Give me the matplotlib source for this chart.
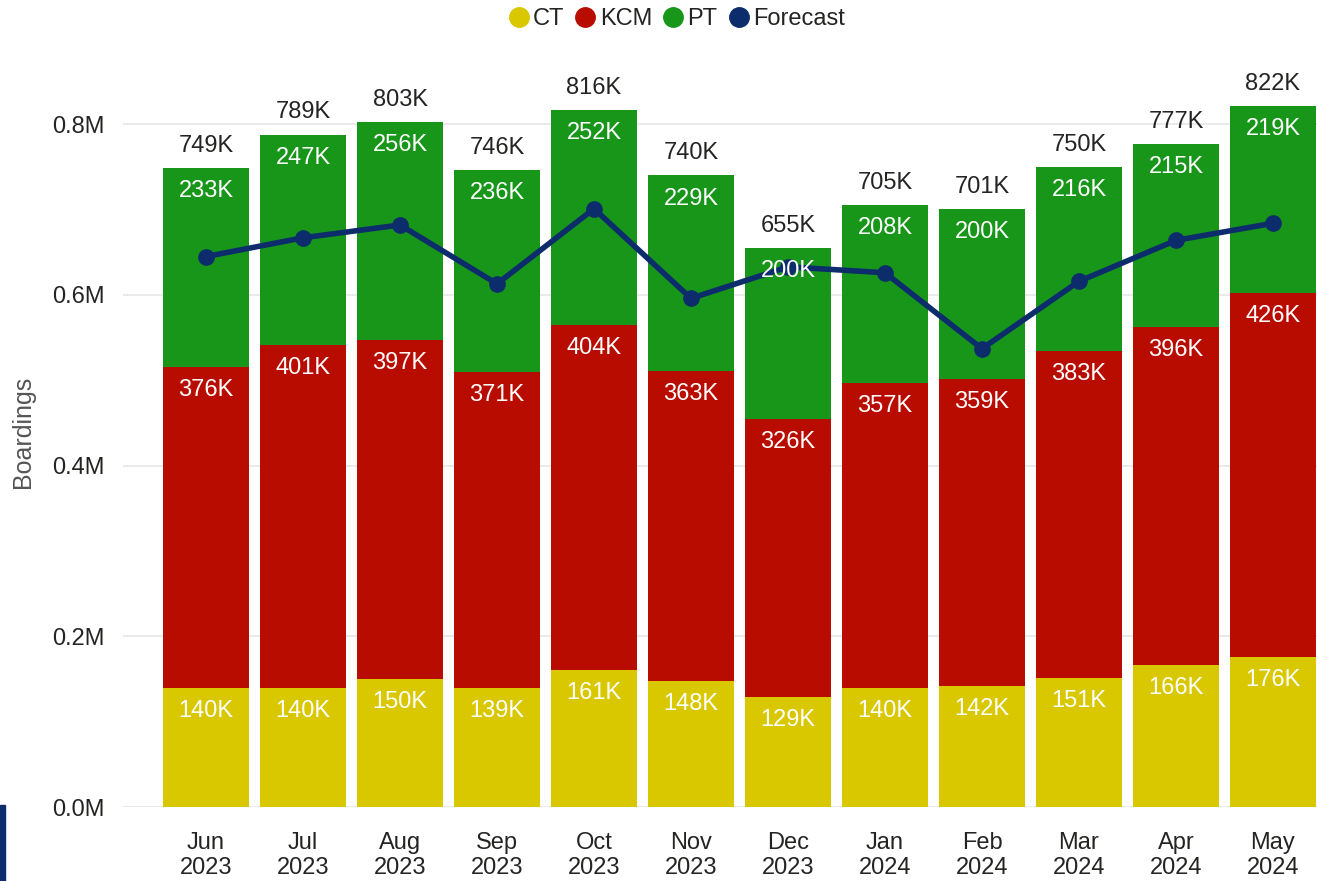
import numpy as np
import matplotlib.pyplot as plt
from matplotlib.lines import Line2D
from matplotlib.patches import Rectangle

plt.rcParams["font.family"] = ["Liberation Sans", "DejaVu Sans"]

months = ["Jun\n2023", "Jul\n2023", "Aug\n2023", "Sep\n2023", "Oct\n2023", "Nov\n2023",
          "Dec\n2023", "Jan\n2024", "Feb\n2024", "Mar\n2024", "Apr\n2024", "May\n2024"]
ct = [140, 140, 150, 139, 161, 148, 129, 140, 142, 151, 166, 176]
kcm = [376, 401, 397, 371, 404, 363, 326, 357, 359, 383, 396, 426]
pt = [233, 247, 256, 236, 252, 229, 200, 208, 200, 216, 215, 219]
totals = [749, 789, 803, 746, 816, 740, 655, 705, 701, 750, 777, 822]
forecast = [645, 667, 682, 613, 701, 596, 633, 626, 537, 616, 664, 684]

C_CT = "#D9C700"
C_KCM = "#B90C00"
C_PT = "#179619"
C_FC = "#0C2C6C"

W, H = 1317, 881
fig = plt.figure(figsize=(W / 100, H / 100), dpi=100)
ax = fig.add_axes([123 / W, 74 / H, 1194 / W, (807 - 56) / H])

x = np.arange(len(months))
ct_m = np.array(ct) / 1000
kcm_m = np.array(kcm) / 1000
pt_m = np.array(pt) / 1000
fc_m = np.array(forecast) / 1000

bw = 0.89
ax.bar(x, ct_m, bw, color=C_CT, zorder=2)
ax.bar(x, kcm_m, bw, bottom=ct_m, color=C_KCM, zorder=2)
ax.bar(x, pt_m, bw, bottom=ct_m + kcm_m, color=C_PT, zorder=2)

ax.plot(x, fc_m, color=C_FC, lw=4, marker="o", ms=11, zorder=3)

off = -0.027
fs = 17
for i in x:
    tops = [ct_m[i], ct_m[i] + kcm_m[i], ct_m[i] + kcm_m[i] + pt_m[i]]
    vals = [ct[i], kcm[i], pt[i]]
    for t, v in zip(tops, vals):
        ax.text(i, t + off, f"{v}K", ha="center", va="center", color="white",
                fontsize=fs, zorder=4)
    ax.text(i, tops[2] + 0.026, f"{totals[i]}K", ha="center", va="center",
            color="#252423", fontsize=fs, zorder=4)

ax.set_xlim(-0.856, 11.454)
ax.set_ylim(0, 0.88)
ax.set_yticks([0, 0.2, 0.4, 0.6, 0.8])
ax.set_yticklabels(["0.0M", "0.2M", "0.4M", "0.6M", "0.8M"])
ax.set_xticks(x)
ax.set_xticklabels(months, linespacing=1.2)
ax.tick_params(axis="both", length=0, labelsize=17, labelcolor="#252423")
ax.tick_params(axis="y", pad=13)
ax.tick_params(axis="x", pad=18)
ax.grid(axis="y", color="#E6E6E6", lw=1.2, zorder=0)
for s in ax.spines.values():
    s.set_visible(False)
ax.set_ylabel("Boardings", fontsize=18, color="#555555")
ax.yaxis.set_label_coords(-0.074, 0.5)

handles = [Line2D([], [], ls="", marker="o", ms=14, color=c)
           for c in (C_CT, C_KCM, C_PT, C_FC)]
fig.legend(handles, ["CT", "KCM", "PT", "Forecast"], loc="center",
           bbox_to_anchor=(677 / W, 1 - 19 / H), ncol=4, frameon=False,
           fontsize=17, handlelength=0.8, handletextpad=0.2,
           columnspacing=0.5, labelcolor="#252423")

fig.patches.append(Rectangle((0, 0), 5 / W, 76 / H, transform=fig.transFigure,
                             color="#0C2C6C", zorder=5))

fig.savefig("out.png", dpi=100)
